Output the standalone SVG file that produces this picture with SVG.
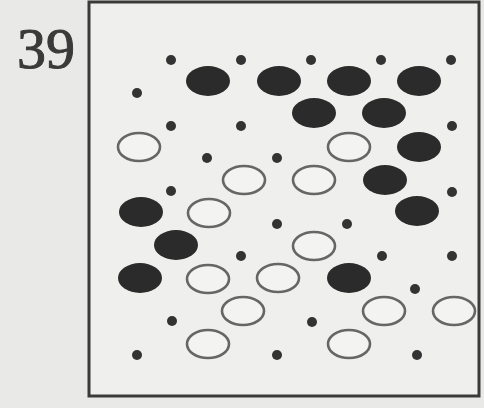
<svg xmlns="http://www.w3.org/2000/svg" width="484" height="408" viewBox="0 0 484 408">
<style>
.bg{fill:#e9e9e7}
.frame{fill:#efefed;stroke:#3a3a3a;stroke-width:3}
.num{font-family:"Liberation Serif","DejaVu Serif",serif;font-size:58px;fill:#3a3a3a;stroke:#3a3a3a;stroke-width:1}
.dot{fill:#333333}
.blk{fill:#2b2b2b}
.wht{fill:#f3f3f1;stroke:#666666;stroke-width:2.6}
</style>
<rect class="bg" x="0" y="0" width="484" height="408"/>
<text class="num" x="17" y="68">39</text>
<rect id="frame" class="frame" x="89" y="2" width="390" height="394"/>
<g id="dots">
<circle class="dot" cx="171" cy="60" r="5"/>
<circle class="dot" cx="241" cy="60" r="5"/>
<circle class="dot" cx="311" cy="60" r="5"/>
<circle class="dot" cx="381" cy="60" r="5"/>
<circle class="dot" cx="451" cy="60" r="5"/>
<circle class="dot" cx="137" cy="93" r="5"/>
<circle class="dot" cx="171" cy="126" r="5"/>
<circle class="dot" cx="241" cy="126" r="5"/>
<circle class="dot" cx="452" cy="126" r="5"/>
<circle class="dot" cx="207" cy="158" r="5"/>
<circle class="dot" cx="277" cy="158" r="5"/>
<circle class="dot" cx="171" cy="191" r="5"/>
<circle class="dot" cx="452" cy="192" r="5"/>
<circle class="dot" cx="277" cy="224" r="5"/>
<circle class="dot" cx="347" cy="224" r="5"/>
<circle class="dot" cx="241" cy="256" r="5"/>
<circle class="dot" cx="382" cy="256" r="5"/>
<circle class="dot" cx="452" cy="256" r="5"/>
<circle class="dot" cx="415" cy="289" r="5"/>
<circle class="dot" cx="172" cy="321" r="5"/>
<circle class="dot" cx="312" cy="322" r="5"/>
<circle class="dot" cx="137" cy="355" r="5"/>
<circle class="dot" cx="277" cy="355" r="5"/>
<circle class="dot" cx="417" cy="355" r="5"/>
</g>
<g id="black-ovals">
<ellipse class="blk" cx="208" cy="81" rx="22" ry="15"/>
<ellipse class="blk" cx="279" cy="81" rx="22" ry="15"/>
<ellipse class="blk" cx="349" cy="81" rx="22" ry="15"/>
<ellipse class="blk" cx="419" cy="81" rx="22" ry="15"/>
<ellipse class="blk" cx="314" cy="113" rx="22" ry="15"/>
<ellipse class="blk" cx="384" cy="113" rx="22" ry="15"/>
<ellipse class="blk" cx="419" cy="147" rx="22" ry="15"/>
<ellipse class="blk" cx="385" cy="180" rx="22" ry="15"/>
<ellipse class="blk" cx="141" cy="212" rx="22" ry="15"/>
<ellipse class="blk" cx="417" cy="211" rx="22" ry="15"/>
<ellipse class="blk" cx="176" cy="245" rx="22" ry="15"/>
<ellipse class="blk" cx="140" cy="278" rx="22" ry="15"/>
<ellipse class="blk" cx="349" cy="278" rx="22" ry="15"/>
</g>
<g id="white-ovals">
<ellipse class="wht" cx="139" cy="147" rx="21" ry="14"/>
<ellipse class="wht" cx="349" cy="147" rx="21" ry="14"/>
<ellipse class="wht" cx="244" cy="180" rx="21" ry="14"/>
<ellipse class="wht" cx="314" cy="180" rx="21" ry="14"/>
<ellipse class="wht" cx="209" cy="213" rx="21" ry="14"/>
<ellipse class="wht" cx="314" cy="246" rx="21" ry="14"/>
<ellipse class="wht" cx="208" cy="279" rx="21" ry="14"/>
<ellipse class="wht" cx="278" cy="278" rx="21" ry="14"/>
<ellipse class="wht" cx="243" cy="311" rx="21" ry="14"/>
<ellipse class="wht" cx="384" cy="311" rx="21" ry="14"/>
<ellipse class="wht" cx="454" cy="311" rx="21" ry="14"/>
<ellipse class="wht" cx="208" cy="344" rx="21" ry="14"/>
<ellipse class="wht" cx="349" cy="344" rx="21" ry="14"/>
</g>
</svg>
